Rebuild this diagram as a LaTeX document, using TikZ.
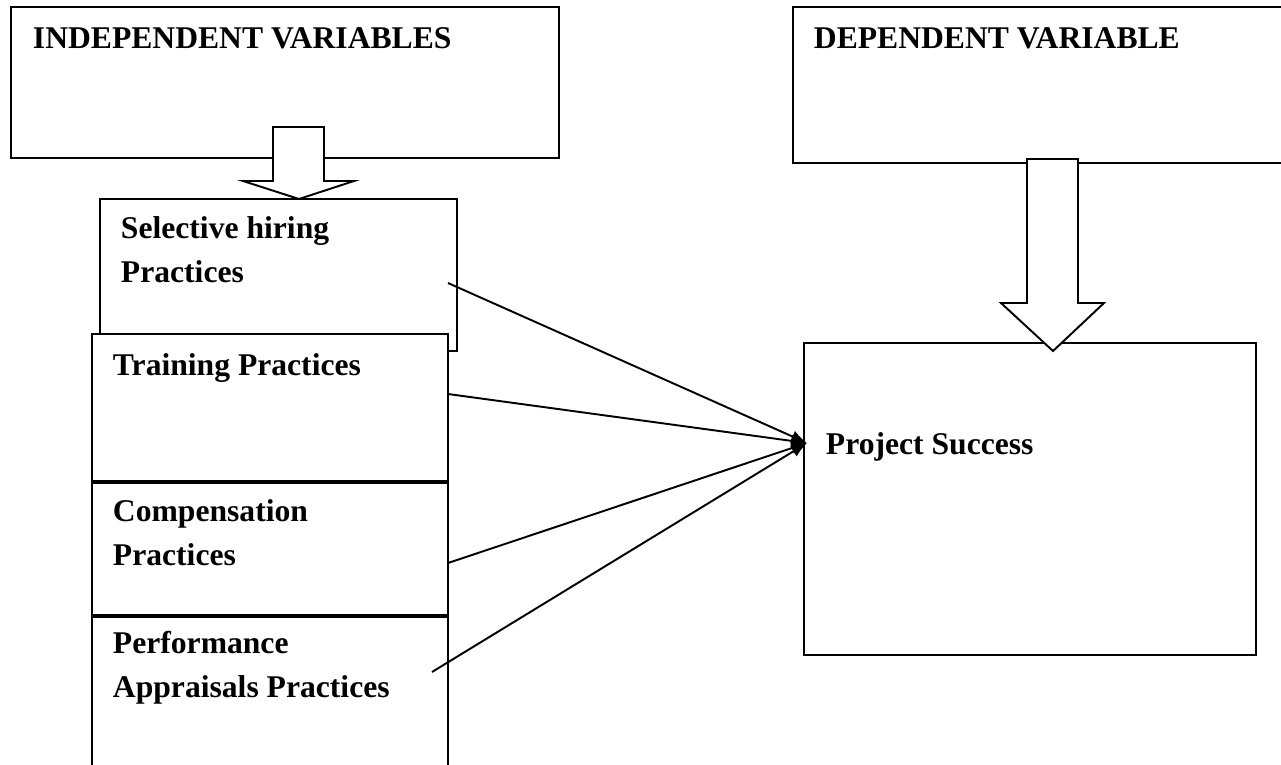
\documentclass[tikz,border=0pt]{standalone}
\usepackage{fontspec}
\setmainfont{Liberation Serif}
\usetikzlibrary{arrows.meta, positioning}

\begin{document}
\begin{tikzpicture}[x=0.02cm, y=-0.02cm, line width=1.1pt]
  \tikzstyle{box}=[draw, fill=white, rectangle, inner sep=0pt]
  \tikzstyle{lbl}=[anchor=base west, inner sep=0pt, align=left, font=\fontsize{18}{24.5}\selectfont\bfseries]
  \tikzstyle{fat}=[draw, fill=white, line join=miter]
  \tikzstyle{link}=[-{Latex[length=9pt,width=7pt]}]

    \useasboundingbox (0,0) rectangle (1281,764);

    % headline boxes
    \node[box, minimum width=10.96cm, minimum height=3.02cm] (iv) at (285,82.5) {};
    \node[box, minimum width=9.94cm, minimum height=3.12cm]  (dv) at (1041.5,85) {};

    % independent variables
    \node[box, minimum width=7.14cm, minimum height=3.04cm] (sel)   at (278.5,275) {};
    \node[box, minimum width=7.12cm, minimum height=2.94cm] (train) at (270,407.5) {};
    \node[box, minimum width=7.12cm, minimum height=2.64cm] (comp)  [below=0pt of train] {};
    \node[box, minimum width=7.12cm, minimum height=3.0cm]  (perf)  [below=0pt of comp] {};

    % dependent variable
    \node[box, minimum width=9.04cm, minimum height=6.24cm] (ps) at (1030,499) {};

    % block arrows
    \draw[fat] (273,127) -- (324,127) -- (324,181) -- (354,181) -- (299,199)
               -- (243,181) -- (273,181) -- cycle;
    \draw[fat] (1027,159) -- (1078,159) -- (1078,303) -- (1104,303) -- (1053,351)
               -- (1001,303) -- (1027,303) -- cycle;

    % base of a two-line label is its last line
    \node[lbl] (ivtxt)    at (32,49)   {INDEPENDENT VARIABLES};
    \node[lbl] (dvtxt)    at (813,49)  {DEPENDENT VARIABLE};
    \node[lbl] (seltxt)   at (120,282) {Selective hiring\\Practices};
    \node[lbl] (traintxt) at (112,375) {Training Practices};
    \node[lbl] (comptxt)  at (112,565) {Compensation\\Practices};
    \node[lbl] (perftxt)  at (112,697) {Performance\\Appraisals Practices};
    \node[lbl] (pstxt)    at (825,454) {Project Success};

    \coordinate (selout)   at (448,283);
    \coordinate (trainout) at (448,394);
    \coordinate (compout)  at (448,563);
    \coordinate (perfout)  at (432,672);
    \coordinate (psin)     at (807,443);

    \draw[link] (selout)   -- (psin);
    \draw[link] (trainout) -- (psin);
    \draw[link] (compout)  -- (psin);
    \draw[link] (perfout)  -- (psin);
\end{tikzpicture}
\end{document}
